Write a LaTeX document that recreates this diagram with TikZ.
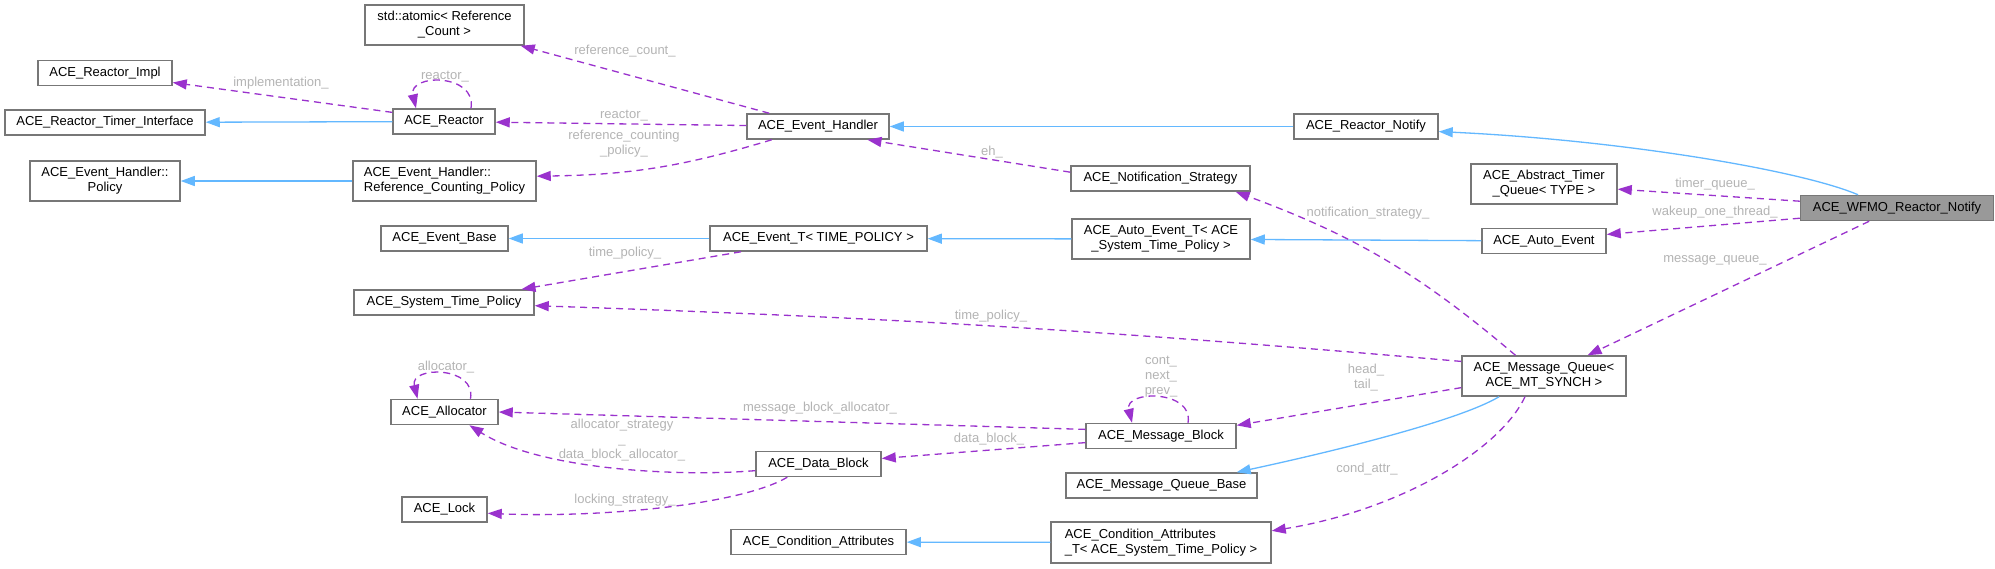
\documentclass[tikz,border=0pt]{standalone}
\usepackage{fontspec}
\setmainfont{Liberation Sans}
\usetikzlibrary{arrows.meta}
\definecolor{colorINH}{HTML}{63B8FF}
\definecolor{colorMEM}{HTML}{9A32CD}
\definecolor{colorLBL}{HTML}{B4B4B4}
\definecolor{colorBOX}{HTML}{777777}
\definecolor{colorSEL}{HTML}{999999}
\tikzset{
   every node/.style={font=\fontsize{13}{15}\selectfont},
   cls/.style={draw=colorBOX,line width=1.5pt,fill=white,inner sep=0pt,align=center,minimum height=25},
   sel/.style={cls,fill=colorSEL},
   inh/.style={-{Triangle[length=14pt,width=10pt]},color=colorINH,line width=1.3pt},
   memb/.style={-{Triangle[length=14pt,width=10pt]},color=colorMEM,line width=1.3pt,dash pattern=on 7pt off 5pt},
   lbl/.style={text=colorLBL,inner sep=0pt,align=center},
}
\begin{document}
\begin{tikzpicture}[x=1pt,y=-1pt]

        \fill[white] (0,0) rectangle (1995,568);
        \useasboundingbox (0,0) rectangle (1995,568);

        % classes
        \node[cls,minimum width=159,minimum height=40] (atomic) at (444.5,25) {std::atomic< Reference\\\_Count >};
        \node[cls,minimum width=134] (rimpl) at (105,73) {ACE\_Reactor\_Impl};
        \node[cls,minimum width=200] (rtimer) at (105,122.5) {ACE\_Reactor\_Timer\_Interface};
        \node[cls,minimum width=102] (reactor) at (444,121.5) {ACE\_Reactor};
        \node[cls,minimum width=150,minimum height=40] (policy) at (105,181) {ACE\_Event\_Handler::\\Policy};
        \node[cls,minimum width=183,minimum height=40,align=left] (rcpolicy) at (444.5,181) {ACE\_Event\_Handler::\\Reference\_Counting\_Policy};
        \node[cls,minimum width=127] (evbase) at (444.5,238.5) {ACE\_Event\_Base};
        \node[cls,minimum width=180] (stp) at (444,302.5) {ACE\_System\_Time\_Policy};
        \node[cls,minimum width=107] (alloc) at (444.5,412) {ACE\_Allocator};
        \node[cls,minimum width=85] (lock) at (444.5,509.5) {ACE\_Lock};

        \node[cls,minimum width=142] (evh) at (818,126.5) {ACE\_Event\_Handler};
        \node[cls,minimum width=217] (evt) at (818.5,238.5) {ACE\_Event\_T< TIME\_POLICY >};
        \node[cls,minimum width=125] (dblock) at (818.5,464) {ACE\_Data\_Block};
        \node[cls,minimum width=175] (cattr) at (818.5,542) {ACE\_Condition\_Attributes};

        \node[cls,minimum width=179] (nstrat) at (1160.5,178.5) {ACE\_Notification\_Strategy};
        \node[cls,minimum width=178,minimum height=40] (autoevt) at (1161,239) {ACE\_Auto\_Event\_T< ACE\\\_System\_Time\_Policy >};
        \node[cls,minimum width=150] (mblock) at (1161,436) {ACE\_Message\_Block};
        \node[cls,minimum width=191] (mqbase) at (1161.5,485.5) {ACE\_Message\_Queue\_Base};
        \node[cls,minimum width=220,minimum height=41,align=left] (cattrt) at (1161,542.5) {ACE\_Condition\_Attributes\\\_T< ACE\_System\_Time\_Policy >};

        \node[cls,minimum width=144] (rnotify) at (1366,126.5) {ACE\_Reactor\_Notify};
        \node[cls,minimum width=146,minimum height=40] (atq) at (1544,184) {ACE\_Abstract\_Timer\\\_Queue< TYPE >};
        \node[cls,minimum width=124] (autoev) at (1544,241) {ACE\_Auto\_Event};
        \node[cls,minimum width=164,minimum height=40] (mq) at (1544,376) {ACE\_Message\_Queue<\\ACE\_MT\_SYNCH >};
        \node[sel,minimum width=193] (wfmo) at (1897,208) {ACE\_WFMO\_Reactor\_Notify};

        % inheritance
        \draw[inh] (reactor) -- (rtimer);
        \draw[inh] (rcpolicy) -- (policy);
        \draw[inh] (rnotify) -- (evh);
        \draw[inh] (evt) -- (evbase);
        \draw[inh] (autoevt) -- (evt);
        \draw[inh] (autoev) -- (autoevt);
        \draw[inh] ([xshift=-39pt]wfmo.north) .. controls (1800,170) and (1620,140) .. (rnotify.-4);
        \draw[inh] ([xshift=-45pt]mq.south) .. controls (1460,420) and (1340,450) .. (mqbase.10);
        \draw[inh] (cattrt) -- (cattr);

        % members
        \draw[memb] (evh) -- (atomic);
        \draw[memb] (reactor.170) -- (rimpl.-8);
        \draw[memb] ([xshift=27pt]reactor.north) .. controls +(6,-35) and +(-8,-35) .. ([xshift=-28pt]reactor.north);
        \draw[memb] (evh) -- (reactor);
        \draw[memb] (evh.-164) to[bend left=8] (rcpolicy.3);
        \draw[memb] (nstrat.176) -- (evh.-15);
        \draw[memb] (evt) -- (stp);
        \draw[memb] (wfmo.176) -- (atq.-4);
        \draw[memb] (wfmo.186) -- (autoev.6);
        \draw[memb] (wfmo) -- (mq);
        \draw[memb] (mq.144) to[bend right=10] (nstrat.-10);
        \draw[memb] (mq.170) to[bend right=1.5] (stp.-2);
        \draw[memb] (mq.188) -- (mblock.8);
        \draw[memb] ([xshift=27pt]mblock.north) .. controls +(6,-33) and +(-8,-33) .. ([xshift=-29pt]mblock.north);
        \draw[memb] (mblock.175) -- (alloc.east);
        \draw[memb] (mblock.185) -- (dblock.5);
        \draw[memb] (dblock.186) .. controls (680,477) and (540,470) .. (alloc.-28);
        \draw[memb] (dblock.-157) .. controls (740,505) and (600,518) .. (lock.-5);
        \draw[memb] ([xshift=26pt]alloc.north) .. controls +(6,-33) and +(-8,-33) .. ([xshift=-27pt]alloc.north);
        \draw[memb] ([xshift=-19pt]mq.south) .. controls (1500,450) and (1400,510) .. (cattrt.6);

        % member names
        \node[lbl] (l-refcnt) at (625,51) {reference\_count\_};
        \node[lbl] (l-impl) at (281,83) {implementation\_};
        \node[lbl] (l-reactor1) at (445,77) {reactor\_};
        \node[lbl] (l-reactor2) at (624,116) {reactor\_};
        \node[lbl] (l-rcpol) at (624,144) {reference\_counting\\\_policy\_};
        \node[lbl] (l-eh) at (992,152) {eh\_};
        \node[lbl] (l-tpol1) at (625,253) {time\_policy\_};
        \node[lbl] (l-timerq) at (1715,184) {timer\_queue\_};
        \node[lbl] (l-wakeup) at (1715,212) {wakeup\_one\_thread\_};
        \node[lbl] (l-mq) at (1715,260) {message\_queue\_};
        \node[lbl] (l-nstrat) at (1368,213) {notification\_strategy\_};
        \node[lbl] (l-tpol2) at (991,316) {time\_policy\_};
        \node[lbl] (l-headtail) at (1366,378) {head\_\\tail\_};
        \node[lbl] (l-cnp) at (1161,377) {cont\_\\next\_\\prev\_};
        \node[lbl] (l-mballoc) at (820,408) {message\_block\_allocator\_};
        \node[lbl] (l-dblock) at (989,439) {data\_block\_};
        \node[lbl] (l-alloc) at (446,367) {allocator\_};
        \node[lbl] (l-allocstr) at (622,440) {allocator\_strategy\\\_\\data\_block\_allocator\_};
        \node[lbl] (l-lock) at (625,500) {locking\_strategy\_};
        \node[lbl] (l-cond) at (1367,469) {cond\_attr\_};

\end{tikzpicture}
\end{document}
